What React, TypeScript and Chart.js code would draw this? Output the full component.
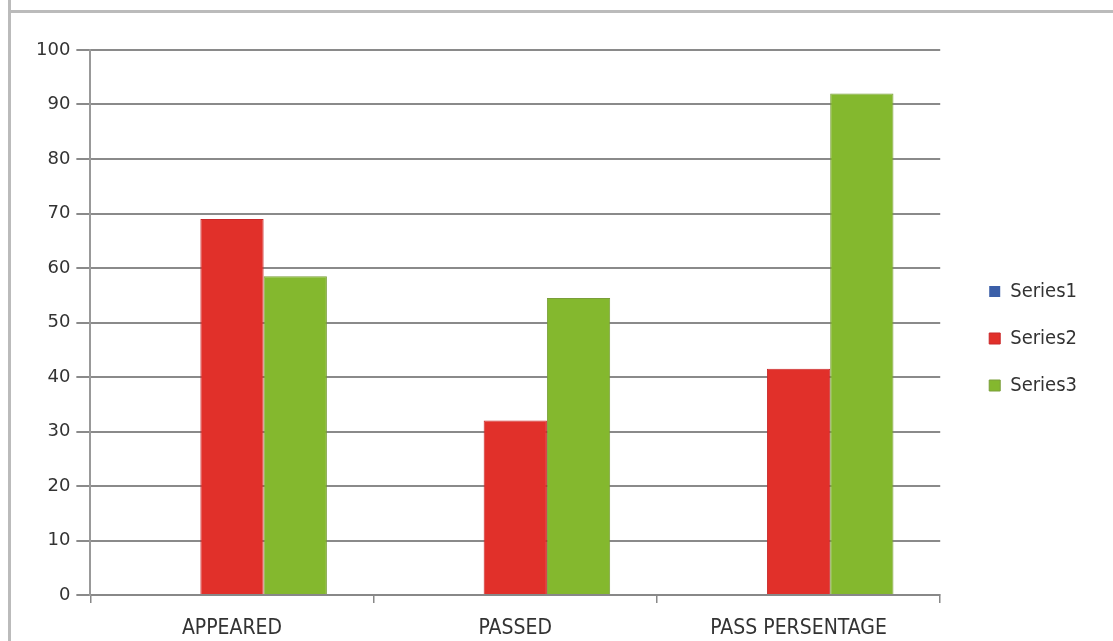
import React, { useEffect, useRef } from "react";
import { Chart, registerables } from "chart.js";

Chart.register(...registerables);

const categories = ["APPEARED", "PASSED", "PASS PERSENTAGE"];
const series1 = [0, 0, 0];
const series2 = [69, 32, 41.5];
const series3 = [58.5, 54.5, 92];
const yTicks = [0, 10, 20, 30, 40, 50, 60, 70, 80, 90, 100];

const narrow = "'Liberation Sans Narrow', 'DejaVu Sans Condensed', sans-serif";

const legendShift = {
  id: "legendShift",
  afterLayout(chart: any) {
    const lg = chart.legend;
    if (lg) {
      lg.left += 22;
      lg.right += 22;
      lg.top -= 7;
      lg.bottom -= 7;
    }
  },
};

export default function App() {
  const ref = useRef<HTMLCanvasElement | null>(null);
  useEffect(() => {
    document.body.style.margin = "0";
    const ctx = ref.current!;
    const chart = new Chart(ctx, {
      type: "bar",
      data: {
        labels: categories,
        datasets: [
          { label: "Series1", data: series1, backgroundColor: "#3b5fa8", borderColor: "#2e4c8a", borderWidth: 0 },
          { label: "Series2", data: series2, backgroundColor: "#e1302a", borderColor: "#c9282a", borderWidth: 1 },
          { label: "Series3", data: series3, backgroundColor: "#84b82e", borderColor: "#7a9e3a", borderWidth: 1 },
        ],
      },
      plugins: [legendShift],
      options: {
        animation: false,
        responsive: false,
        maintainAspectRatio: false,
        layout: { padding: { left: 30, right: 48, top: 50, bottom: 0 } },
        datasets: { bar: { categoryPercentage: 0.67, barPercentage: 1 } },
        plugins: {
          legend: {
            position: "right",
            labels: {
              boxWidth: 11,
              boxHeight: 11,
              padding: 27,
              color: "#333",
              font: { family: narrow, size: 20 },
            },
          },
          tooltip: { enabled: false },
        },
        scales: {
          x: {
            afterFit: (axis: any) => {
              axis.height = 46;
            },
            grid: { display: true, drawOnChartArea: false, offset: true, tickLength: 8, color: "#888", lineWidth: 1.5 },
            border: { display: true, color: "#888", width: 2 },
            ticks: {
              color: "#333",
              padding: 13,
              font: { family: narrow, size: 21 },
            },
          },
          y: {
            min: 0,
            max: 100,
            afterBuildTicks: (axis: any) => {
              axis.ticks = yTicks.map((v) => ({ value: v }));
            },
            grid: { color: "#8a8a8a", lineWidth: 2, tickLength: 14 },
            border: { display: true, color: "#999", width: 2 },
            ticks: {
              color: "#333",
              padding: 6,
              font: { family: "'DejaVu Sans', sans-serif", size: 18 },
            },
          },
        },
      },
    });
    return () => chart.destroy();
  }, []);
  return (
    <div style={{ position: "fixed", left: 0, top: 0, width: 1113, height: 641, background: "#fff" }}>
      <div style={{ position: "absolute", left: 8, top: 0, width: 3, height: 641, background: "#bbb" }} />
      <div style={{ position: "absolute", left: 8, top: 10, width: 1105, height: 3, background: "#bbb" }} />
      <canvas ref={ref} width={1113} height={641} style={{ position: "absolute", left: 0, top: 0 }} />
    </div>
  );
}
